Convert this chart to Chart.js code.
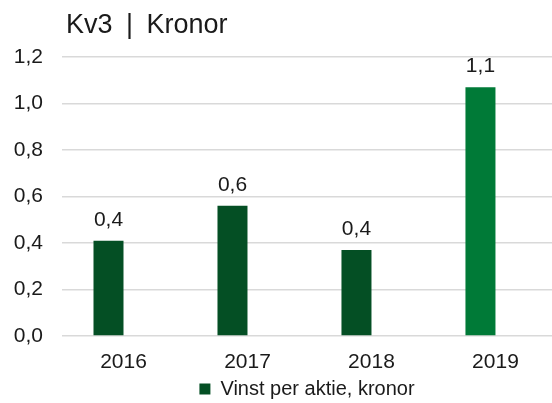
<!DOCTYPE html>
<html>
<head>
<meta charset="utf-8">
<script src="https://cdn.jsdelivr.net/npm/chart.js@4"></script>
<style>
  html, body { margin: 0; padding: 0; background: #fff; }
</style>
</head>
<body>
<canvas id="chart" width="552" height="403"></canvas>
<script>
// data
var years = [2016, 2017, 2018, 2019];
var eps = [0.41, 0.56, 0.37, 1.07];
var yTicks = [0, 0.2, 0.4, 0.6, 0.8, 1.0, 1.2];
var seriesName = 'Vinst per aktie, kronor';
var chartTitle = 'Kv3 | Kronor';

var dark = '#044F24';
var bright = '#007A37';
var textColor = '#1a1a1a';
var fontFamily = '"Liberation Sans", Arial, sans-serif';

function comma(v) {
    return v.toFixed(1).replace('.', ',');
}

var titlePlugin = {
    id: 'titleText',
    afterDraw: function(chart) {
        var ctx = chart.ctx;
        ctx.save();
        ctx.font = '27px ' + fontFamily;
        ctx.fillStyle = textColor;
        ctx.textBaseline = 'alphabetic';
        ctx.fillText(chartTitle.replace(/ /g, '\u2002'), 66, 33);
        ctx.restore();
    }
};

var valueLabels = {
    id: 'valueLabels',
    afterDatasetsDraw: function(chart) {
        var ctx = chart.ctx;
        var meta = chart.getDatasetMeta(0);
        ctx.save();
        ctx.font = '21px ' + fontFamily;
        ctx.fillStyle = textColor;
        ctx.textAlign = 'center';
        ctx.textBaseline = 'alphabetic';
        meta.data.forEach(function(bar, i) {
            ctx.fillText(comma(eps[i]), bar.x, bar.y - 15);
        });
        ctx.restore();
    }
};

new Chart(document.getElementById('chart'), {
    type: 'bar',
    data: {
        labels: years,
        datasets: [{
            label: seriesName,
            data: eps,
            backgroundColor: function(c) {
                return c.dataIndex === 3 ? bright : dark;
            },
            borderWidth: 0
        }, {
            label: '',
            data: years.map(function() { return null; })
        }]
    },
    options: {
        responsive: false,
        animation: false,
        categoryPercentage: 0.484,
        barPercentage: 1,
        layout: {
            padding: { top: 57, left: 0, right: 0, bottom: 1 }
        },
        scales: {
            x: {
                type: 'linear',
                offset: false,
                min: 2015.504,
                max: 2019.456,
                afterBuildTicks: function(s) {
                    s.ticks = years.map(function(v) { return { value: v }; });
                },
                afterFit: function(s) { s.height = 40; },
                grid: { display: false, offset: false },
                border: { display: false },
                ticks: {
                    padding: 6,
                    color: textColor,
                    font: { family: fontFamily, size: 21 },
                    callback: function(v) { return String(v); }
                }
            },
            y: {
                min: 0,
                max: 1.2,
                afterBuildTicks: function(s) {
                    s.ticks = yTicks.map(function(v) { return { value: v }; });
                },
                afterFit: function(s) { s.width = 62; },
                grid: { color: '#d9d9d9', lineWidth: 1.5, drawTicks: false },
                border: { display: false },
                ticks: {
                    padding: 19,
                    color: textColor,
                    font: { family: fontFamily, size: 21 },
                    callback: function(v) { return comma(v); }
                }
            }
        },
        plugins: {
            title: { display: false },
            tooltip: { enabled: false },
            legend: {
                position: 'bottom',
                fullSize: false,
                maxHeight: 26,
                labels: {
                    boxWidth: 11,
                    boxHeight: 11,
                    padding: 3,
                    color: textColor,
                    font: { family: fontFamily, size: 20 },
                    filter: function(item) { return item.datasetIndex === 0; }
                }
            }
        }
    },
    plugins: [titlePlugin, valueLabels]
});
</script>
</body>
</html>
